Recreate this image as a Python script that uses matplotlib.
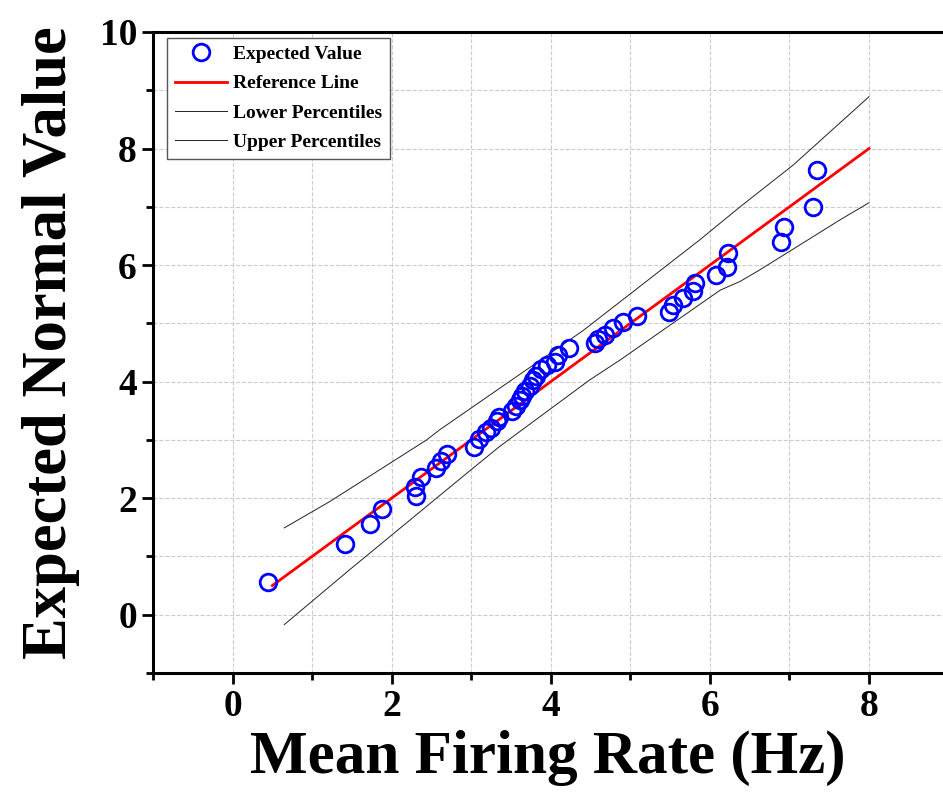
import matplotlib
matplotlib.use('Agg')
import matplotlib.pyplot as plt
from matplotlib.ticker import MultipleLocator

# valores (Q-Q plot)
firing_rate = [0.45, 1.42, 1.73, 1.88, 2.30, 2.29, 2.37, 2.56, 2.62, 2.70,
               3.03, 3.10, 3.19, 3.25, 3.32, 3.35, 3.51, 3.56, 3.61, 3.64,
               3.67, 3.74, 3.78, 3.82, 3.88, 3.95, 4.05, 4.09, 4.23, 4.55,
               4.60, 4.68, 4.78, 4.91, 5.08, 5.48, 5.54, 5.66, 5.79, 5.81,
               6.08, 6.21, 6.23, 6.90, 6.93, 7.29, 7.35]
expected_value = [0.57, 1.21, 1.55, 1.82, 2.03, 2.20, 2.37, 2.52, 2.63, 2.76,
                  2.87, 3.02, 3.14, 3.21, 3.32, 3.39, 3.50, 3.58, 3.68, 3.76,
                  3.84, 3.93, 4.02, 4.10, 4.21, 4.29, 4.34, 4.46, 4.57, 4.66,
                  4.74, 4.80, 4.92, 5.03, 5.12, 5.20, 5.32, 5.43, 5.55, 5.69,
                  5.83, 5.97, 6.20, 6.40, 6.65, 7.00, 7.63]

ref_x = [0.5, 8.0]
ref_y = [0.5, 8.0]

upper_x = [0.65, 1.22, 2.44, 2.60, 4.40, 5.87, 6.38, 7.05, 8.0]
upper_y = [1.49, 1.94, 3.00, 3.17, 4.87, 6.43, 7.00, 7.72, 8.89]

lower_x = [0.65, 1.47, 3.00, 3.36, 4.49, 4.87, 6.13, 6.38, 6.63, 7.64, 8.0]
lower_y = [-0.17, 0.77, 2.49, 2.89, 4.03, 4.37, 5.57, 5.72, 5.92, 6.78, 7.07]

plt.rcParams['font.family'] = 'Liberation Serif'
plt.rcParams['font.weight'] = 'bold'

fig = plt.figure(figsize=(9.43, 7.94), dpi=100)
ax = fig.add_axes([0.1622, 0.1524, 0.8378, 0.8073])

ax.plot(firing_rate, expected_value, 'o', markersize=12, markerfacecolor='none',
        markeredgecolor='#0000ff', markeredgewidth=2, label='Expected Value', zorder=4)
ax.plot(ref_x, ref_y, color='#ff0000', linewidth=2, label='Reference Line', zorder=3)
ax.plot(lower_x, lower_y, color='#222222', linewidth=0.7, label='Lower Percentiles')
ax.plot(upper_x, upper_y, color='#222222', linewidth=0.7, label='Upper Percentiles')

ax.set_xlim(-1, 8.93)
ax.set_ylim(-1, 10)
ax.xaxis.set_major_locator(MultipleLocator(2))
ax.xaxis.set_minor_locator(MultipleLocator(1))
ax.yaxis.set_major_locator(MultipleLocator(2))
ax.yaxis.set_minor_locator(MultipleLocator(1))
ax.grid(which='both', linestyle='--', color='#cccccc', linewidth=0.8)
ax.set_axisbelow(True)

ax.tick_params(which='major', direction='out', length=8, width=2, labelsize=27)
ax.tick_params(which='minor', direction='out', length=5, width=2)
for s in ['left', 'bottom', 'top']:
    ax.spines[s].set_linewidth(2.2)
ax.spines['right'].set_visible(False)

ax.set_xlabel('Mean Firing Rate (Hz)', fontsize=44, fontweight='bold', labelpad=4)
ax.set_ylabel('Expected Normal Value', fontsize=45, fontweight='bold')
ax.yaxis.set_label_coords(-0.092, 0.516)

leg = ax.legend(loc='upper left', bbox_to_anchor=(0.018, 0.991), borderaxespad=0,
                fontsize=14, fancybox=False, edgecolor='#555555', handlelength=2.7,
                handletextpad=0.3, labelspacing=0.6, borderpad=0.4, framealpha=1)
leg.get_frame().set_linewidth(1)

fig.savefig('out.png', dpi=100)
